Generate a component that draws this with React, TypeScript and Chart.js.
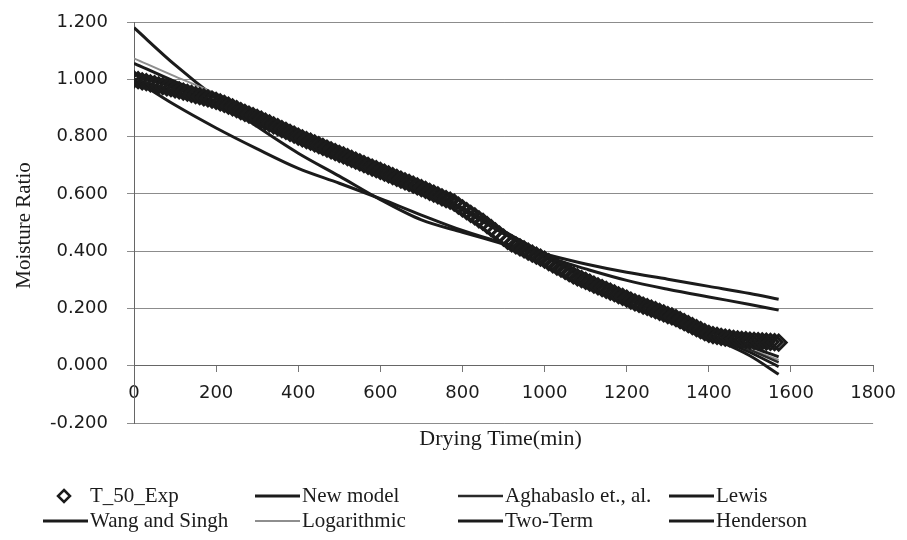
import React, { useEffect, useRef } from "react";
import { Chart, registerables } from "chart.js";

Chart.register(...registerables);

// ---------- data ----------
const xTitle = "Drying Time(min)";
const yTitle = "Moisture Ratio";

const expTime = [
  0, 10, 20, 30, 40, 50, 60, 70, 80, 90, 100, 110, 120, 130, 140, 150, 160, 170, 180, 190,
  200, 210, 220, 230, 240, 250, 260, 270, 280, 290, 300, 310, 320, 330, 340, 350, 360, 370, 380, 390,
  400, 410, 420, 430, 440, 450, 460, 470, 480, 490, 500, 510, 520, 530, 540, 550, 560, 570, 580, 590,
  600, 610, 620, 630, 640, 650, 660, 670, 680, 690, 700, 710, 720, 730, 740, 750, 760, 770, 780, 790,
  800, 810, 820, 830, 840, 850, 860, 870, 880, 890, 900, 910, 920, 930, 940, 950, 960, 970, 980, 990,
  1000, 1010, 1020, 1030, 1040, 1050, 1060, 1070, 1080, 1090, 1100, 1110, 1120, 1130, 1140, 1150, 1160, 1170, 1180, 1190,
  1200, 1210, 1220, 1230, 1240, 1250, 1260, 1270, 1280, 1290, 1300, 1310, 1320, 1330, 1340, 1350, 1360, 1370, 1380, 1390,
  1400, 1410, 1420, 1430, 1440, 1450, 1460, 1470, 1480, 1490, 1500, 1510, 1520, 1530, 1540, 1550, 1560, 1570,
];

const expMR = [
  1.000, 0.997, 0.993, 0.990, 0.986, 0.983, 0.979, 0.976, 0.972, 0.969, 0.965,
  0.961, 0.957, 0.953, 0.949, 0.945, 0.941, 0.937, 0.933, 0.929, 0.925,
  0.919, 0.914, 0.908, 0.902, 0.896, 0.889, 0.883, 0.877, 0.871, 0.865,
  0.859, 0.852, 0.846, 0.839, 0.833, 0.826, 0.820, 0.813, 0.807, 0.800,
  0.794, 0.788, 0.782, 0.776, 0.770, 0.764, 0.758, 0.752, 0.746, 0.740,
  0.734, 0.728, 0.722, 0.716, 0.710, 0.704, 0.698, 0.692, 0.686, 0.680,
  0.674, 0.668, 0.662, 0.656, 0.650, 0.644, 0.638, 0.632, 0.626, 0.620,
  0.614, 0.607, 0.601, 0.595, 0.588, 0.582, 0.576, 0.569, 0.559, 0.549,
  0.540, 0.530, 0.521, 0.511, 0.502, 0.491, 0.480, 0.469, 0.458, 0.447,
  0.436, 0.427, 0.420, 0.413, 0.406, 0.398, 0.391, 0.384, 0.377, 0.370,
  0.362, 0.354, 0.346, 0.339, 0.331, 0.323, 0.315, 0.308, 0.302, 0.296,
  0.290, 0.283, 0.277, 0.271, 0.265, 0.259, 0.253, 0.246, 0.240, 0.234,
  0.227, 0.221, 0.216, 0.210, 0.205, 0.199, 0.194, 0.188, 0.183, 0.177,
  0.172, 0.166, 0.159, 0.152, 0.145, 0.138, 0.131, 0.124, 0.117, 0.111,
  0.107, 0.104, 0.101, 0.098, 0.096, 0.094, 0.092, 0.090, 0.089, 0.088,
  0.087, 0.086, 0.085, 0.084, 0.083, 0.082, 0.081,
];

const modelTime = [0, 100, 200, 300, 400, 500, 600, 700, 800, 900, 1000, 1100, 1200, 1300, 1400, 1500, 1570];

const newModel = [1.017, 0.970, 0.922, 0.868, 0.808, 0.746, 0.683, 0.619, 0.551, 0.470, 0.390, 0.318, 0.252, 0.188, 0.125, 0.068, 0.031];
const aghabaslo = [1.000, 0.962, 0.918, 0.865, 0.806, 0.744, 0.681, 0.617, 0.549, 0.467, 0.387, 0.314, 0.247, 0.182, 0.118, 0.055, 0.012];
const lewis = [1.000, 0.910, 0.830, 0.757, 0.689, 0.637, 0.583, 0.526, 0.472, 0.428, 0.390, 0.355, 0.326, 0.302, 0.277, 0.252, 0.232];
const wangSingh = [1.000, 0.955, 0.908, 0.856, 0.798, 0.738, 0.676, 0.612, 0.543, 0.461, 0.381, 0.307, 0.238, 0.170, 0.102, 0.035, -0.030];
const logarithmic = [1.073, 1.010, 0.950, 0.882, 0.815, 0.750, 0.686, 0.621, 0.552, 0.472, 0.392, 0.318, 0.250, 0.184, 0.120, 0.058, 0.020];
const twoTerm = [1.056, 0.992, 0.935, 0.874, 0.810, 0.747, 0.683, 0.618, 0.549, 0.466, 0.386, 0.311, 0.243, 0.177, 0.112, 0.047, -0.003];
const henderson = [1.180, 1.050, 0.935, 0.835, 0.742, 0.662, 0.580, 0.509, 0.466, 0.425, 0.382, 0.338, 0.298, 0.267, 0.240, 0.214, 0.194];

const seriesNames = [
  "T_50_Exp",
  "New model",
  "Aghabaslo et., al.",
  "Lewis",
  "Wang and Singh",
  "Logarithmic",
  "Two-Term",
  "Henderson",
];

// ---------- styles ----------
const INK = "#1b1b1b";
const GRAY_LINE = "#8e8e8e";
const SERIF = '"Liberation Serif", "Times New Roman", serif';
const SANS = '"DejaVu Sans", sans-serif';

const toXY = (xs: number[], ys: number[]) => xs.map((x, i) => ({ x, y: ys[i] }));

const overlayPlugin = {
  id: "overlay",
  afterDraw(chart: any) {
    const ctx = chart.ctx as CanvasRenderingContext2D;
    const ca = chart.chartArea;
    ctx.save();
    ctx.fillStyle = INK;

    // y-axis title
    ctx.save();
    ctx.font = `21px ${SERIF}`;
    ctx.translate(24, (ca.top + ca.bottom) / 2 + 3);
    ctx.rotate(-Math.PI / 2);
    ctx.textAlign = "center";
    ctx.textBaseline = "middle";
    ctx.fillText(yTitle, 0, 0);
    ctx.restore();

    // x-axis title
    ctx.font = `22px ${SERIF}`;
    ctx.textAlign = "center";
    ctx.textBaseline = "middle";
    ctx.fillText(xTitle, (ca.left + ca.right) / 2 - 3, 439);

    // legend (4 columns x 2 rows)
    const colText = [90, 302, 505, 716];
    const rowY = [496, 521];
    ctx.font = `21px ${SERIF}`;
    ctx.textAlign = "left";
    chart.data.datasets.forEach((ds: any, i: number) => {
      const cx = colText[i % 4];
      const cy = rowY[Math.floor(i / 4)];
      if (ds.showLine === false) {
        const r = 6;
        const mx = cx - 26;
        ctx.beginPath();
        ctx.moveTo(mx, cy - r);
        ctx.lineTo(mx + r, cy);
        ctx.lineTo(mx, cy + r);
        ctx.lineTo(mx - r, cy);
        ctx.closePath();
        ctx.lineWidth = 2.5;
        ctx.strokeStyle = INK;
        ctx.stroke();
      } else {
        ctx.beginPath();
        ctx.moveTo(cx - 47, cy);
        ctx.lineTo(cx - 2, cy);
        ctx.lineWidth = ds.borderWidth;
        ctx.strokeStyle = ds.borderColor;
        ctx.stroke();
      }
      ctx.fillStyle = INK;
      ctx.textBaseline = "middle";
      ctx.fillText(ds.label, cx, cy);
    });
    ctx.restore();
  },
};

export default function App() {
  const canvasRef = useRef<HTMLCanvasElement | null>(null);

  useEffect(() => {
    document.body.style.margin = "0";
    const canvas = canvasRef.current;
    if (!canvas) return;

    const lineDs = (label: string, ys: number[], color: string, width: number) => ({
      type: "line" as const,
      label,
      data: toXY(modelTime, ys),
      borderColor: color,
      backgroundColor: color,
      borderWidth: width,
      pointRadius: 0,
      fill: false,
      cubicInterpolationMode: "monotone" as const,
      order: 1,
    });

    const chart = new Chart(canvas, {
      type: "line",
      data: {
        datasets: [
          {
            label: seriesNames[0],
            data: toXY(expTime, expMR),
            showLine: false,
            pointStyle: "rectRot",
            pointRadius: 7.5,
            pointBorderWidth: 3,
            pointBorderColor: INK,
            pointBackgroundColor: "rgba(0,0,0,0)",
            borderColor: INK,
            order: 0,
          } as any,
          lineDs(seriesNames[1], newModel, INK, 3),
          lineDs(seriesNames[2], aghabaslo, "#2a2a2a", 2.5),
          lineDs(seriesNames[3], lewis, INK, 3),
          lineDs(seriesNames[4], wangSingh, INK, 3),
          lineDs(seriesNames[5], logarithmic, GRAY_LINE, 2),
          lineDs(seriesNames[6], twoTerm, INK, 3),
          lineDs(seriesNames[7], henderson, INK, 3),
        ],
      },
      options: {
        animation: false,
        responsive: true,
        maintainAspectRatio: false,
        layout: { padding: { left: 0, right: 29, top: 22, bottom: 117 } },
        plugins: {
          legend: { display: false },
          tooltip: { enabled: false },
        },
        scales: {
          x: {
            type: "linear",
            min: 0,
            max: 1800,
            position: { y: 0 } as any,
            ticks: {
              stepSize: 200,
              padding: 11,
              autoSkip: false,
              maxRotation: 0,
              color: INK,
              font: { family: SANS, size: 18 },
              callback: (v: any) => String(v),
            },
            grid: {
              display: true,
              drawOnChartArea: false,
              drawTicks: true,
              tickLength: 6,
              color: "#777777",
            },
            border: { display: true, color: "#666666", width: 1 },
            afterFit: (s: any) => {
              s.height = 0;
              s.paddingTop = 0;
              s.paddingBottom = 0;
            },
          },
          y: {
            type: "linear",
            min: -0.2,
            max: 1.2,
            ticks: {
              stepSize: 0.2,
              padding: 19,
              color: INK,
              font: { family: SANS, size: 18 },
              callback: (v: any) => {
                const n = Math.abs(Number(v)) < 1e-9 ? 0 : Number(v);
                return n.toFixed(3);
              },
            },
            grid: {
              color: "#8c8c8c",
              lineWidth: 1,
              drawTicks: true,
              tickLength: 7,
            },
            border: { display: true, color: "#666666", width: 1 },
            afterFit: (s: any) => {
              s.width = 134;
              s.paddingTop = 0;
              s.paddingBottom = 0;
            },
          },
        },
      },
      plugins: [overlayPlugin],
    });

    return () => chart.destroy();
  }, []);

  return (
    <div style={{ width: 907, height: 540, position: "relative", background: "#ffffff" }}>
      <canvas ref={canvasRef} />
    </div>
  );
}
